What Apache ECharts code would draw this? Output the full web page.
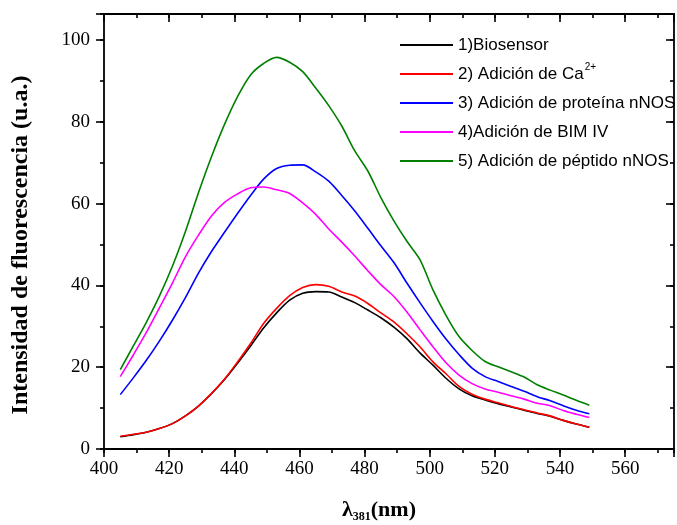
<!DOCTYPE html>
<html>
<head>
<meta charset="utf-8">
<script src="https://cdn.jsdelivr.net/npm/echarts@6/dist/echarts.min.js"></script>
<style>html,body{margin:0;padding:0;background:#fff}#c{width:677px;height:525px}</style>
</head>
<body>
<div id="c"></div>
<script>
// wavelength (nm)
const wavelengths = [405,409,413,417,421,425,429,433,437,441,445,449,453,457,461,465,469,473,477,481,485,489,493,497,501,505,509,513,517,521,525,529,533,537,541,545,549];
const biosensor = [3.0,3.5,4.1,5.0,6.2,8.1,10.5,13.5,17.0,21.0,25.2,29.6,33.3,36.4,38.1,38.5,38.4,37.2,35.8,34.0,32.1,29.8,27.0,23.5,20.5,17.3,14.7,13.0,12.0,11.1,10.3,9.5,8.7,8.0,7.0,6.1,5.3];
const calcio = [3.1,3.6,4.1,5.0,6.2,8.1,10.5,13.6,17.1,21.3,25.8,30.7,34.4,37.5,39.5,40.2,39.8,38.4,37.4,35.6,33.3,31.1,28.2,25.0,21.3,18.4,15.3,13.4,12.2,11.3,10.4,9.6,8.8,8.1,7.0,6.1,5.3];
const proteina = [13.3,17.4,21.7,26.4,31.5,37.0,43.0,48.3,53.0,57.6,62.0,66.0,68.6,69.4,69.5,67.8,65.5,62.0,58.2,54.0,49.7,45.6,40.6,35.8,31.2,26.9,23.1,19.8,17.7,16.5,15.3,14.1,12.8,11.8,10.6,9.5,8.6];
const bim = [17.7,23.0,28.5,34.5,40.6,47.0,52.3,57.0,60.3,62.4,63.9,64.1,63.4,62.5,60.2,57.4,53.8,50.6,47.2,43.6,40.2,37.3,33.5,29.2,25.0,21.1,18.1,16.0,14.7,13.9,13.0,12.2,11.2,10.6,9.4,8.5,7.7];
const peptido = [19.4,25.2,31.0,37.4,44.7,53.2,62.7,71.5,79.4,86.2,91.5,94.3,95.8,94.6,92.3,88.3,84.0,79.0,72.9,68.0,61.5,55.8,50.8,46.3,38.9,32.7,27.5,24.1,21.4,20.1,18.9,17.6,15.7,14.4,13.2,11.9,10.7];

const seriesNames = ['1)Biosensor','2) Adición de Ca','3) Adición de proteína nNOS','4)Adición de BIM IV','5) Adición de péptido nNOS'];
const seriesColors = ['#000000','#ff0000','#0000ff','#ff00ff','#008000'];
const seriesValues = [biosensor, calcio, proteina, bim, peptido];

const xTickLabels = [400,420,440,460,480,500,520,540,560];
const yTickLabels = [0,20,40,60,80,100];

const X_MIN = 400, X_MAX = 575, Y_MIN = 0, Y_MAX = 106.4;
const serif = '"Liberation Serif", "Times New Roman", serif';
const sans = '"Liberation Sans", Arial, sans-serif';

function axis(base) {
  return Object.assign({
    type: 'value',
    splitLine: {show: false},
    axisLine: {show: false, onZero: false},
    axisLabel: {show: false},
    axisTick: {show: true, lineStyle: {color: '#000', width: 1.6}},
    silent: true
  }, base);
}
const lineStyle = {color: '#000', width: 1.8};

const chart = echarts.init(document.getElementById('c'), null, {renderer: 'canvas'});
chart.setOption({
  animation: false,
  backgroundColor: '#fff',
  grid: {left: 104, right: -4, top: 14, bottom: 76, containLabel: false},
  xAxis: [
    axis({position: 'bottom', min: X_MIN, max: X_MAX, interval: 20,
      axisLine: {show: true, onZero: false, lineStyle: lineStyle},
      axisTick: {show: true, inside: false, length: 8, lineStyle: {color: '#000', width: 1.6}},
      axisLabel: {show: true, margin: 11, color: '#000', fontFamily: serif, fontSize: 19,
        formatter: v => xTickLabels.indexOf(v) >= 0 ? String(v) : ''}}),
    axis({position: 'bottom', min: X_MIN, max: X_MAX, interval: 10,
      axisTick: {show: true, inside: false, length: 4, lineStyle: {color: '#000', width: 1.6}}}),
    axis({position: 'top', min: X_MIN, max: X_MAX, interval: 20,
      axisLine: {show: true, onZero: false, lineStyle: lineStyle},
      axisTick: {show: true, inside: true, length: 8, lineStyle: {color: '#000', width: 1.6}}}),
    axis({position: 'top', min: X_MIN, max: X_MAX, interval: 10,
      axisTick: {show: true, inside: true, length: 4, lineStyle: {color: '#000', width: 1.6}}})
  ],
  yAxis: [
    axis({position: 'left', min: Y_MIN, max: Y_MAX, interval: 20,
      axisLine: {show: true, onZero: false, lineStyle: lineStyle},
      axisTick: {show: true, inside: false, length: 8, lineStyle: {color: '#000', width: 1.6}},
      axisLabel: {show: true, margin: 14, color: '#000', fontFamily: serif, fontSize: 19,
        formatter: v => yTickLabels.indexOf(v) >= 0 ? String(v) : ''}}),
    axis({position: 'left', min: Y_MIN, max: Y_MAX, interval: 10,
      axisTick: {show: true, inside: false, length: 4, lineStyle: {color: '#000', width: 1.6}}}),
    axis({position: 'right', min: Y_MIN, max: Y_MAX, interval: 20,
      axisLine: {show: true, onZero: false, lineStyle: lineStyle},
      axisTick: {show: true, inside: true, length: 8, lineStyle: {color: '#000', width: 1.6}}}),
    axis({position: 'right', min: Y_MIN, max: Y_MAX, interval: 10,
      axisTick: {show: true, inside: true, length: 4, lineStyle: {color: '#000', width: 1.6}}})
  ],
  legend: {
    orient: 'vertical',
    left: 395,
    top: 28,
    itemWidth: 53,
    itemHeight: 2,
    itemGap: 5,
    icon: 'rect',
    data: seriesNames,
    formatter: name => name === seriesNames[1] ? '{t|' + name + '}{sup|2+}' : '{t|' + name + '}',
    textStyle: {
      color: '#000', fontFamily: sans, fontSize: 17, lineHeight: 24,
      rich: {
        t: {fontFamily: sans, fontSize: 17, lineHeight: 24, color: '#000'},
        sup: {fontFamily: sans, fontSize: 10, lineHeight: 22, verticalAlign: 'top', color: '#000', padding: [0, 0, 0, 1]}
      }
    }
  },
  graphic: [
    {type: 'text', x: 21, y: 245, z: 10,
      rotation: Math.PI / 2,
      style: {text: 'Intensidad de fluorescencia (u.a.)', fill: '#000', font: 'bold 24px ' + serif,
        align: 'center', verticalAlign: 'middle'}},
    {type: 'text', x: 379, y: 510, z: 10,
      style: {
        text: '{b|λ}{s|381}{b|(nm)}', fill: '#000', align: 'center', verticalAlign: 'middle',
        rich: {
          b: {font: 'bold 22px ' + serif, fill: '#000', lineHeight: 26, verticalAlign: 'middle'},
          s: {font: 'bold 12px ' + serif, fill: '#000', lineHeight: 26, verticalAlign: 'bottom'}
        }
      }}
  ],
  series: seriesNames.map((n, i) => ({
    name: n,
    type: 'line',
    xAxisIndex: 0,
    yAxisIndex: 0,
    showSymbol: false,
    symbol: 'none',
    smooth: 0.3,
    color: seriesColors[i],
    lineStyle: {color: seriesColors[i], width: 1.6},
    data: wavelengths.map((w, k) => [w, seriesValues[i][k]])
  }))
});
</script>
</body>
</html>
